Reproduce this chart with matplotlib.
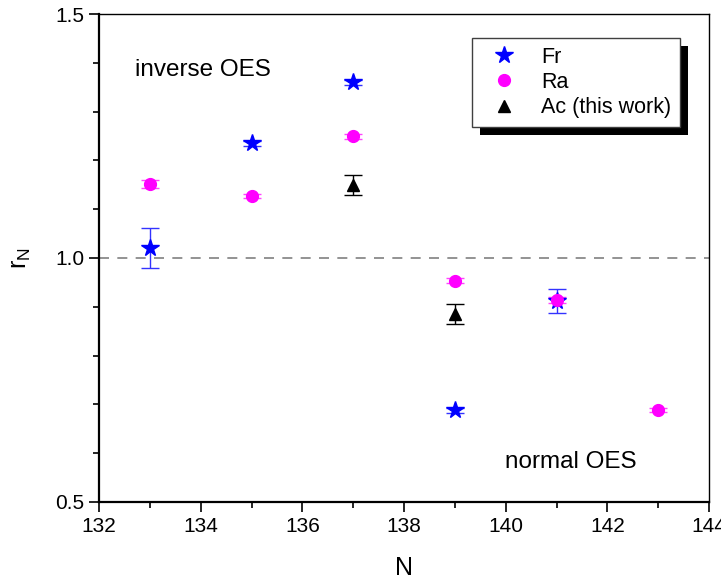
import matplotlib
matplotlib.use('Agg')
import matplotlib.pyplot as plt
from matplotlib.patches import Rectangle
from matplotlib.lines import Line2D
from matplotlib.ticker import MultipleLocator, FormatStrFormatter

plt.rcParams['font.family'] = ['Liberation Sans', 'DejaVu Sans']
plt.rcParams['mathtext.fontset'] = 'custom'
plt.rcParams['mathtext.rm'] = 'Liberation Sans'

# data
fr_n = [133, 135, 137, 139, 141]
fr_r = [1.020, 1.235, 1.360, 0.688, 0.912]
fr_err = [0.041, 0.005, 0.005, 0.005, 0.025]

ra_n = [133, 135, 137, 139, 141, 143]
ra_r = [1.151, 1.127, 1.249, 0.953, 0.914, 0.688]
ra_err = [0.008, 0.005, 0.005, 0.005, 0.006, 0.004]

ac_n = [137, 139]
ac_r = [1.150, 0.885]
ac_err = [0.021, 0.021]

fig = plt.figure(figsize=(7.21, 5.81), dpi=100)
ax = fig.add_axes([0.1373, 0.136, 0.8461, 0.8399])

ax.axhline(1.0, color='#808080', lw=1.2, ls=(0, (6, 5)), zorder=1)

ax.errorbar(fr_n, fr_r, yerr=fr_err, fmt='*', color='#0000ff', ecolor='#3333ff',
            ms=13, capsize=6.5, elinewidth=1, capthick=1, zorder=3)
ax.errorbar(ra_n, ra_r, yerr=ra_err, fmt='o', color='#ff00ff', ecolor='#ff44ff',
            ms=8.5, capsize=6.5, elinewidth=1, capthick=1, zorder=3)
ax.errorbar(ac_n, ac_r, yerr=ac_err, fmt='^', color='black',
            ms=9, capsize=6.5, elinewidth=1, capthick=1, zorder=3)

ax.set_xlim(132, 144)
ax.set_ylim(0.5, 1.5)
ax.xaxis.set_major_locator(MultipleLocator(2))
ax.xaxis.set_minor_locator(MultipleLocator(1))
ax.yaxis.set_major_locator(MultipleLocator(0.5))
ax.yaxis.set_minor_locator(MultipleLocator(0.1))
ax.yaxis.set_major_formatter(FormatStrFormatter('%.1f'))
ax.tick_params(which='major', direction='out', length=7.5, width=1.2, labelsize=15, pad=3)
ax.tick_params(which='minor', direction='out', length=4.5, width=1.2)

for side in ['left', 'bottom']:
    ax.spines[side].set_linewidth(1.6)
for side in ['top', 'right']:
    ax.spines[side].set_linewidth(1.0)

ax.set_xlabel('N', fontsize=18, labelpad=15)
ax.set_ylabel(r'r$_\mathregular{N}$', fontsize=18, labelpad=16)

ax.text(134.05, 1.385, 'inverse OES', fontsize=17.5, ha='center', va='center')
ax.text(141.29, 0.582, 'normal OES', fontsize=17.5, ha='center', va='center')

handles = [
    Line2D([], [], ls='none', marker='*', color='#0000ff', ms=13),
    Line2D([], [], ls='none', marker='o', color='#ff00ff', ms=8.5),
    Line2D([], [], ls='none', marker='^', color='black', ms=9),
]
labels = ['Fr', 'Ra', 'Ac (this work)']
leg = ax.legend(handles, labels, loc='upper right', bbox_to_anchor=(0.952, 0.951),
                fontsize=15.5, frameon=True, fancybox=False, edgecolor='#404040',
                framealpha=1, handletextpad=0.6, borderpad=0.4, labelspacing=0.2,
                handlelength=2.2, borderaxespad=0)
leg.get_frame().set_linewidth(1.0)
leg.set_zorder(6)

# heavy drop shadow behind the legend box
fig.canvas.draw()
bb = leg.get_window_extent()
off = 8
shadow = Rectangle((bb.x0 + off, bb.y0 - off), bb.width, bb.height,
                   transform=None, facecolor='black', edgecolor='none',
                   zorder=5, clip_on=False)
ax.add_patch(shadow)

fig.savefig('out.png', dpi=100)
